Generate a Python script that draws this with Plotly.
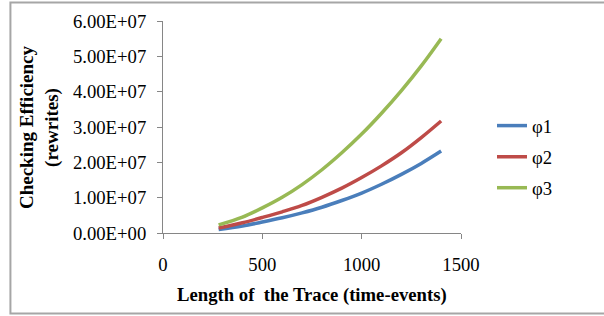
import plotly.graph_objects as go

x_vals = [280, 400, 500, 600, 700, 800, 900, 1000, 1100, 1200, 1300, 1400]
phi1 = [0.10e7, 0.20e7, 0.31e7, 0.43e7, 0.57e7, 0.73e7, 0.92e7, 1.13e7, 1.38e7, 1.66e7, 1.97e7, 2.32e7]
phi2 = [0.14e7, 0.29e7, 0.44e7, 0.60e7, 0.78e7, 1.01e7, 1.27e7, 1.57e7, 1.90e7, 2.27e7, 2.70e7, 3.17e7]
phi3 = [0.23e7, 0.45e7, 0.71e7, 1.01e7, 1.37e7, 1.79e7, 2.27e7, 2.80e7, 3.39e7, 4.03e7, 4.73e7, 5.50e7]
series_names = ["φ1", "φ2", "φ3"]
colors = ["#4a7ebb", "#be4b48", "#98b954"]
y_ticks = [0, 1e7, 2e7, 3e7, 4e7, 5e7, 6e7]
y_tick_labels = ["0.00E+00", "1.00E+07", "2.00E+07", "3.00E+07", "4.00E+07", "5.00E+07", "6.00E+07"]
x_ticks = [0, 500, 1000, 1500]

FONT = "Liberation Serif, Times New Roman, serif"
FS = 18.7

fig = go.Figure()
legend_ids = ["legend", "legend2", "legend3"]
for name, ys, c, lg in zip(series_names, [phi1, phi2, phi3], colors, legend_ids):
    fig.add_trace(go.Scatter(x=x_vals, y=ys, name=name, mode="lines", legend=lg,
                             line=dict(color=c, width=3.5, shape="spline")))

axis_color = "#868686"
leg_common = dict(x=1.104, xanchor="left", yanchor="middle",
                  font=dict(family=FONT, size=FS), itemwidth=30,
                  bgcolor="rgba(0,0,0,0)", borderwidth=0)
fig.update_layout(
    template="none",
    width=604, height=316,
    margin=dict(l=163, r=143, t=21, b=83, autoexpand=False),
    paper_bgcolor="white", plot_bgcolor="white",
    font=dict(family=FONT, size=FS, color="black"),
    showlegend=True,
    legend=dict(y=0.505, **leg_common),
    legend2=dict(y=0.358, **leg_common),
    legend3=dict(y=0.212, **leg_common),
    xaxis=dict(range=[0, 1500], tickvals=x_ticks, showgrid=False, zeroline=False,
               automargin=False,
               showline=True, linecolor=axis_color, linewidth=1,
               ticks="outside", ticklen=5, tickcolor=axis_color,
               ticklabelstandoff=10, tickfont=dict(family=FONT, size=FS)),
    yaxis=dict(range=[0, 6e7], tickvals=y_ticks, ticktext=y_tick_labels,
               showgrid=False, zeroline=False, automargin=False,
               showline=True, linecolor=axis_color, linewidth=1,
               ticks="outside", ticklen=5, tickcolor=axis_color,
               ticklabelstandoff=7, tickfont=dict(family=FONT, size=FS)),
    annotations=[
        dict(text="<b>Length of  the Trace (time-events)</b>", xref="paper", yref="paper",
             x=0.5, y=-0.292, xanchor="center", yanchor="middle", showarrow=False,
             font=dict(family=FONT, size=FS)),
        dict(text="<b>Checking Efficiency<br>(rewrites)</b>", xref="paper", yref="paper",
             x=-0.416, y=0.5, xanchor="center", yanchor="middle", showarrow=False,
             textangle=-90, font=dict(family=FONT, size=19)),
    ],
    shapes=[dict(type="rect", xref="paper", yref="paper", layer="above",
                 x0=-0.512, x1=1.62, y0=-0.380, y1=1.087,
                 line=dict(color="#a6a6a6", width=2))],
)

fig.write_html("out.html", config={"displayModeBar": False},
               post_script="document.body.style.margin='0';document.body.style.padding='0';")
